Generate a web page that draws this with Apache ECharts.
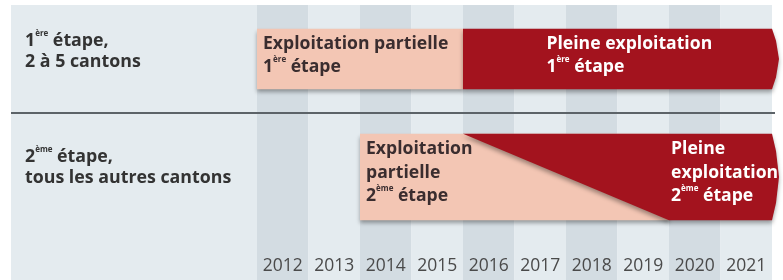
<!DOCTYPE html>
<html><head><meta charset="utf-8">
<script src="https://cdn.jsdelivr.net/npm/echarts@6/dist/echarts.min.js"></script>
<style>html,body{margin:0;padding:0;background:#fff}#c{width:783px;height:280px}</style>
</head><body><div id="c"></div>
<script>
// ---- data ----
const years = ['2012','2013','2014','2015','2016','2017','2018','2019','2020','2021'];
const rowNames = ['1ère étape, 2 à 5 cantons', '2ème étape, tous les autres cantons'];
const rowLabelText = ['1{sup|ère} étape,\n2 à 5 cantons', '2{sup|ème} étape,\ntous les autres cantons'];
const partialStart = [2012, 2014];      // start of "exploitation partielle"
const fullStartTop = [2016, 2016];      // start of "pleine exploitation" (top edge)
const fullStartBottom = [2016, 2020];   // start of "pleine exploitation" (bottom edge)
const phaseEnd = [2022, 2022];
const partialText = ['Exploitation partielle\n1{sup|ère} étape', 'Exploitation\npartielle\n2{sup|ème} étape'];
const fullText = ['Pleine exploitation\n1{sup|ère} étape', 'Pleine\nexploitation\n2{sup|ème} étape'];
const fullTextAt = [2017.62, 2020.04];

// ---- style ----
const PEACH = '#f3c6b4', RED = '#a3131e', FONT = '"Open Sans", sans-serif';
const richSup = (color) => ({ sup: { fontSize: 8, fontWeight: 'bold', fontFamily: FONT, fill: color, color: color, verticalAlign: 'top', lineHeight: 15 } });

const chart = echarts.init(document.getElementById('c'), null, { renderer: 'canvas' });

function renderItem(params, api) {
  const i = params.dataIndex;
  const c = api.coord([partialStart[i], i]);
  const band = api.size([0, 1])[1];
  const h = band * (i === 0 ? 0.513 : 0.731);
  const top = c[1] - h / 2, bot = c[1] + h / 2;
  const xP = api.coord([partialStart[i], i])[0];
  const xFT = api.coord([fullStartTop[i], i])[0];
  const xFB = api.coord([fullStartBottom[i], i])[0];
  const xE = api.coord([phaseEnd[i], i])[0];
  const xL = api.coord([fullTextAt[i], i])[0];
  const shadow = { shadowBlur: 4, shadowOffsetY: 3, shadowColor: 'rgba(0,0,0,0.35)' };
  const lh = 23.5;
  const textTop = top + 3.5;
  const fs = 17.6;
  return {
    type: 'group',
    children: [
      { type: 'rect', shape: { x: xP, y: top, width: xFB - xP, height: h }, style: Object.assign({ fill: PEACH }, shadow) },
      { type: 'polygon', shape: { points: [[xFT, top], [xE, top], [xE + 4, top + h * 0.2], [xE + 7, c[1]], [xE + 4, bot - h * 0.2], [xE, bot], [xFB, bot]] }, style: Object.assign({ fill: RED }, shadow) },
      { type: 'text', style: { text: partialText[i], x: xP + 6, y: textTop, fill: '#3a2d2f', fontSize: fs, fontWeight: 'bold', fontFamily: FONT, lineHeight: lh, verticalAlign: 'top', align: 'left', rich: richSup('#3a2d2f') } },
      { type: 'text', style: { text: fullText[i], x: xL, y: textTop, fill: '#ffffff', fontSize: fs, fontWeight: 'bold', fontFamily: FONT, lineHeight: lh, verticalAlign: 'top', align: 'left', rich: richSup('#ffffff') } }
    ]
  };
}

chart.setOption({
  animation: false,
  backgroundColor: '#ffffff',
  grid: [
    { left: 257, right: 11, top: 5, bottom: 0 },
    { left: 257, right: 11, top: -2, height: 238 }
  ],
  xAxis: [
    { type: 'category', gridIndex: 0, data: years, position: 'bottom',
      axisLine: { show: false }, axisTick: { show: false },
      axisLabel: { inside: true, interval: 0, hideOverlap: false, margin: 5, fontSize: 17.5, color: '#4a4a4a', fontFamily: FONT },
      splitLine: { show: false },
      splitArea: { show: true, interval: 0, areaStyle: { color: ['#d3dce2', '#e4ebef'] } } },
    { type: 'value', gridIndex: 1, min: 2012, max: 2022, show: false }
  ],
  yAxis: [
    { type: 'category', gridIndex: 0, data: ['a'], show: false },
    { type: 'category', gridIndex: 1, data: rowNames, inverse: true, show: false }
  ],
  graphic: [
    { type: 'rect', z: 0, shape: { x: 11, y: 5, width: 246, height: 275 }, style: { fill: '#e4ebef' } },
    { type: 'line', z: 5, shape: { x1: 11, y1: 113, x2: 775, y2: 113 }, style: { stroke: '#5c6368', lineWidth: 2 } },
    { type: 'text', z: 5, left: 25, top: 30, style: { text: rowLabelText[0], fill: '#333333', fontSize: 17.8, fontWeight: 'bold', fontFamily: FONT, lineHeight: 21.5, rich: richSup('#333333') } },
    { type: 'text', z: 5, left: 25, top: 146, style: { text: rowLabelText[1], fill: '#333333', fontSize: 17.8, fontWeight: 'bold', fontFamily: FONT, lineHeight: 21.5, rich: richSup('#333333') } }
  ],
  series: [{
    type: 'custom', xAxisIndex: 1, yAxisIndex: 1, clip: false, z: 3,
    renderItem: renderItem,
    encode: { x: 0, y: 1 },
    data: rowNames.map((_, i) => [partialStart[i], i])
  }]
});
</script></body></html>
